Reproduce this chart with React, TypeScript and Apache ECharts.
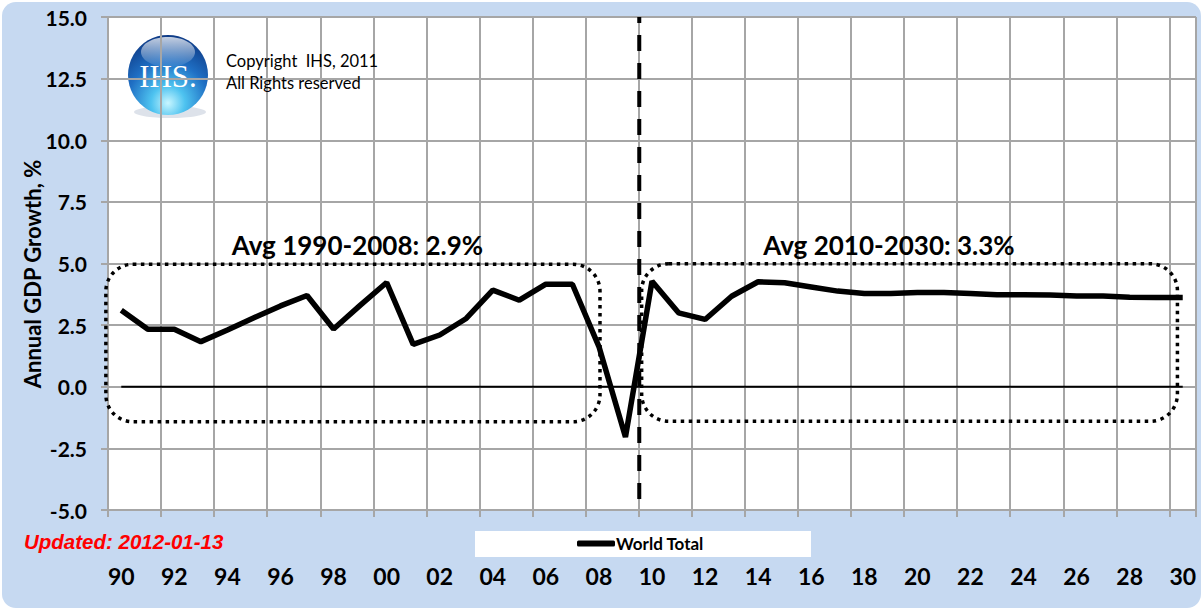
import React, { useEffect, useRef } from "react";
import * as echarts from "echarts";

// Categories (two-digit years 1990-2030)
const years = ["90","91","92","93","94","95","96","97","98","99","00","01","02","03","04","05","06","07","08","09","10","11","12","13","14","15","16","17","18","19","20","21","22","23","24","25","26","27","28","29","30"];

// Annual GDP growth, % (World Total)
const worldTotal = [3.1, 2.33, 2.33, 1.83, 2.3, 2.8, 3.28, 3.7, 2.34, 3.3, 4.23, 1.72, 2.1, 2.77, 3.92, 3.51, 4.16, 4.16, 1.63, -2.04, 4.28, 3.0, 2.73, 3.67, 4.26, 4.22, 4.05, 3.88, 3.78, 3.78, 3.82, 3.82, 3.78, 3.73, 3.73, 3.72, 3.68, 3.68, 3.63, 3.62, 3.62];

// Zero reference line (year, value)
const zeroLine = [[1990, 0], [2030, 0]];

// Forecast boundary (between 2009 and 2010)
const forecastBoundary = [[2009.52, 15], [2009.52, -5]];

// Average boxes: [x0, yTop, x1, yBottom, labelX]
const avgBoxes = [
  [1989.42, 4.97, 2008.04, -1.42, 1998.9],
  [2009.61, 4.99, 2029.8, -1.4, 2018.93],
];
const avgLabels = ["Avg 1990-2008: 2.9%", "Avg 2010-2030: 3.3%"];

const yTicks = { min: -5, max: 15, interval: 2.5 };

const GRID_COLOR = "#a6a6a6";
const FONT = "Lato, 'Noto Sans', sans-serif";

export default function App() {
  const ref = useRef<HTMLDivElement>(null);

  useEffect(() => {
    document.body.style.margin = "0";
    if (!ref.current) return;
    const chart = echarts.init(ref.current, undefined, { renderer: "svg" });

    const option: any = {
      animation: false,
      backgroundColor: "transparent",
      grid: { left: 108, right: 7, top: 17, bottom: 100, show: true, backgroundColor: "#fff", borderWidth: 0 },
      legend: {
        data: [{ name: "World Total", icon: "roundRect" }],
        left: 577,
        top: 535,
        padding: 0,
        itemWidth: 38,
        itemHeight: 6,
        itemGap: 2,
        itemStyle: { color: "#000", borderWidth: 0 },
        textStyle: { fontFamily: FONT, fontWeight: "bold", fontSize: 17, color: "#000", padding: [0, 0, 0, -4] },
      },
      xAxis: [
        {
          type: "category",
          data: years,
          boundaryGap: true,
          axisLine: { show: true, onZero: false, lineStyle: { color: GRID_COLOR, width: 2 } },
          axisTick: { show: true, interval: 1, length: 7, lineStyle: { color: GRID_COLOR, width: 2 } },
          axisLabel: { interval: 1, margin: 54, fontFamily: FONT, fontWeight: "bold", fontSize: 23, color: "#000" },
          splitLine: { show: true, interval: 1, lineStyle: { color: GRID_COLOR, width: 2 } },
        },
        { type: "value", min: 1989.5, max: 2030.5, show: false },
      ],
      yAxis: {
        type: "value",
        min: yTicks.min,
        max: yTicks.max,
        interval: yTicks.interval,
        axisLine: { show: true, lineStyle: { color: GRID_COLOR, width: 2 } },
        axisTick: { show: true, length: 7, lineStyle: { color: GRID_COLOR, width: 2 } },
        axisLabel: {
          formatter: (v: number) => v.toFixed(1),
          margin: 21,
          fontFamily: FONT,
          fontWeight: "bold",
          fontSize: 21,
          color: "#000",
        },
        splitLine: { show: true, lineStyle: { color: GRID_COLOR, width: 2 } },
      },
      series: [
        {
          name: "zero",
          type: "line",
          xAxisIndex: 1,
          data: zeroLine,
          symbol: "none",
          silent: true,
          lineStyle: { color: "#000", width: 2 },
          z: 3,
        },
        {
          name: "boundary",
          type: "line",
          xAxisIndex: 1,
          data: forecastBoundary,
          symbol: "none",
          silent: true,
          lineStyle: { color: "#000", width: 4, type: [16, 12], dashOffset: 10 },
          z: 4,
        },
        {
          name: "avg",
          type: "custom",
          xAxisIndex: 1,
          data: avgBoxes,
          silent: true,
          clip: false,
          z: 6,
          renderItem: (params: any, api: any) => {
            const p0 = api.coord([api.value(0), api.value(1)]);
            const p1 = api.coord([api.value(2), api.value(3)]);
            const pl = api.coord([api.value(4), api.value(1)]);
            return {
              type: "group",
              children: [
                {
                  type: "rect",
                  shape: { x: p0[0], y: p0[1], width: p1[0] - p0[0], height: p1[1] - p0[1], r: 27 },
                  style: { fill: "none", stroke: "#000", lineWidth: 3.5, lineDash: [3.5, 4.5] },
                },
                {
                  type: "text",
                  x: pl[0],
                  y: p0[1] - 6,
                  style: {
                    text: avgLabels[params.dataIndex],
                    fill: "#000",
                    font: `bold 26px ${FONT}`,
                    align: "center",
                    verticalAlign: "bottom",
                  },
                },
              ],
            };
          },
        },
        {
          name: "World Total",
          type: "line",
          data: worldTotal,
          symbol: "none",
          lineStyle: { color: "#000", width: 5.5 },
          itemStyle: { color: "#000" },
          z: 5,
        },
      ],
      graphic: [
        // legend white background
        { type: "rect", shape: { x: 475, y: 531, width: 336, height: 26 }, style: { fill: "#fff" }, z: 1 },
        // y axis title
        {
          type: "text",
          x: 32,
          y: 274,
          rotation: Math.PI / 2,
          style: { text: "Annual GDP Growth, %", font: `bold 22px ${FONT}`, fill: "#000", align: "center", verticalAlign: "middle" },
          z: 10,
        },
        // updated
        {
          type: "text",
          x: 24,
          y: 541,
          style: {
            text: "Updated: 2012-01-13",
            font: "italic bold 20.5px 'Liberation Sans', Arial, sans-serif",
            fill: "#ff0000",
            align: "left",
            verticalAlign: "middle",
          },
          z: 10,
        },
        // logo
        {
          type: "group",
          z: 10,
          children: [
            {
              type: "ellipse",
              shape: { cx: 170, cy: 112, rx: 36, ry: 6 },
              style: { fill: "rgba(120,140,170,0.25)" },
            },
            {
              type: "circle",
              shape: { cx: 168, cy: 75, r: 40 },
              style: {
                fill: new echarts.graphic.RadialGradient(0.5, 0.85, 0.85, [
                  { offset: 0, color: "#c8f6ff" },
                  { offset: 0.25, color: "#4ec3f0" },
                  { offset: 0.6, color: "#1f6fc4" },
                  { offset: 1, color: "#0e3a85" },
                ]),
              },
            },
            {
              type: "ellipse",
              shape: { cx: 168, cy: 52, rx: 27, ry: 15 },
              style: {
                fill: new echarts.graphic.LinearGradient(0, 0, 0, 1, [
                  { offset: 0, color: "rgba(255,255,255,0.75)" },
                  { offset: 1, color: "rgba(255,255,255,0.05)" },
                ]),
              },
            },
            {
              type: "text",
              x: 168,
              y: 76,
              style: {
                text: "IHS.",
                font: "31px 'Liberation Serif', 'DejaVu Serif', serif",
                fill: "#ffffff",
                align: "center",
                verticalAlign: "middle",
              },
            },
          ],
        },
        {
          type: "text",
          x: 226,
          y: 61,
          style: { text: "Copyright  IHS, 2011", font: `16.5px ${FONT}`, fill: "#000", align: "left", verticalAlign: "middle" },
          z: 10,
        },
        {
          type: "text",
          x: 226,
          y: 83,
          style: { text: "All Rights reserved", font: `16.5px ${FONT}`, fill: "#000", align: "left", verticalAlign: "middle" },
          z: 10,
        },
      ],
    };

    chart.setOption(option);
    return () => chart.dispose();
  }, []);

  return (
    <div style={{ position: "relative", width: 1203, height: 610, background: "#fff" }}>
      <div
        style={{
          position: "absolute",
          left: 2,
          top: 2,
          width: 1199,
          height: 606,
          borderRadius: 14,
          background: "#c6d9f1",
        }}
      />
      <div ref={ref} style={{ position: "absolute", left: 0, top: 0, width: 1203, height: 610 }} />
    </div>
  );
}
